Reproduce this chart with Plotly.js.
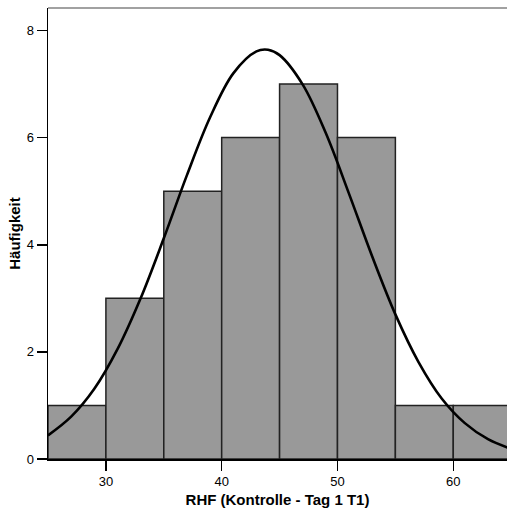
<!DOCTYPE html>
<html>
<head>
<meta charset="utf-8">
<script src="https://cdn.plot.ly/plotly-3.0.1.min.js"></script>
<style>
  html, body { margin: 0; padding: 0; background: #fff; }
  #chart { width: 507px; height: 511px; }
</style>
</head>
<body>
<div id="chart"></div>
<script>
// Histogram bins (width 5) and their frequencies
const binCenters = [27.5, 32.5, 37.5, 42.5, 47.5, 52.5, 57.5, 62.5];
const binWidth = 5;
const counts = [1, 3, 5, 6, 7, 6, 1, 1];

// Overlaid normal curve, sampled along the x axis
const curveX = [25, 27, 29, 31, 33, 35, 37, 39, 41, 43, 44, 45, 47, 49, 51, 53, 55, 57, 59, 61, 63, 65];
const curveY = [0.44, 0.79, 1.31, 2.05, 3.00, 4.12, 5.30, 6.38, 7.20, 7.61, 7.64, 7.54, 6.99, 6.08, 4.95, 3.78, 2.70, 1.81, 1.13, 0.67, 0.37, 0.19];

// Axis ticks
const xTicks = [30, 40, 50, 60];
const yTicks = [0, 2, 4, 6, 8];

const fontFamily = '"Liberation Sans", Arial, sans-serif';

const traces = [
  {
    type: 'bar',
    x: binCenters,
    y: counts,
    width: binCenters.map(() => binWidth),
    marker: { color: '#999999', line: { color: '#222222', width: 1.5 } },
    hoverinfo: 'x+y'
  },
  {
    type: 'scatter',
    mode: 'lines',
    x: curveX,
    y: curveY,
    line: { color: '#000000', width: 2.6, shape: 'spline', smoothing: 1 },
    hoverinfo: 'skip'
  }
];

const layout = {
  width: 507,
  height: 511,
  margin: { l: 48, r: 0, t: 8, b: 52 },
  paper_bgcolor: '#ffffff',
  plot_bgcolor: '#ffffff',
  showlegend: false,
  bargap: 0,
  font: { family: fontFamily, size: 13, color: '#000000' },
  xaxis: {
    range: [25, 64.64],
    tickvals: xTicks,
    ticktext: xTicks.map(String),
    ticks: 'outside',
    ticklen: 10,
    tickwidth: 1.5,
    tickcolor: '#000000',
    showline: true,
    linecolor: '#000000',
    linewidth: 1.5,
    showgrid: false,
    zeroline: false,
    tickfont: { family: fontFamily, size: 13, color: '#000000' },
    title: {
      text: 'RHF (Kontrolle - Tag 1 T1)',
      font: { family: fontFamily, size: 15, color: '#000000', weight: 'bold' },
      standoff: 6
    }
  },
  yaxis: {
    range: [0, 8.42],
    tickvals: yTicks,
    ticktext: yTicks.map(String),
    ticks: 'outside',
    ticklen: 10,
    tickwidth: 1.5,
    tickcolor: '#000000',
    showline: true,
    linecolor: '#000000',
    linewidth: 1.5,
    showgrid: false,
    zeroline: false,
    tickfont: { family: fontFamily, size: 13, color: '#000000' },
    title: {
      text: 'Häufigkeit',
      font: { family: fontFamily, size: 15, color: '#000000', weight: 'bold' },
      standoff: 2
    }
  },
  shapes: [
    {
      type: 'line', xref: 'paper', yref: 'paper',
      x0: 0, x1: 1, y0: 1, y1: 1,
      line: { color: '#444444', width: 1.2 }
    }
  ]
};

Plotly.newPlot('chart', traces, layout, { displayModeBar: false, staticPlot: true });
</script>
</body>
</html>
